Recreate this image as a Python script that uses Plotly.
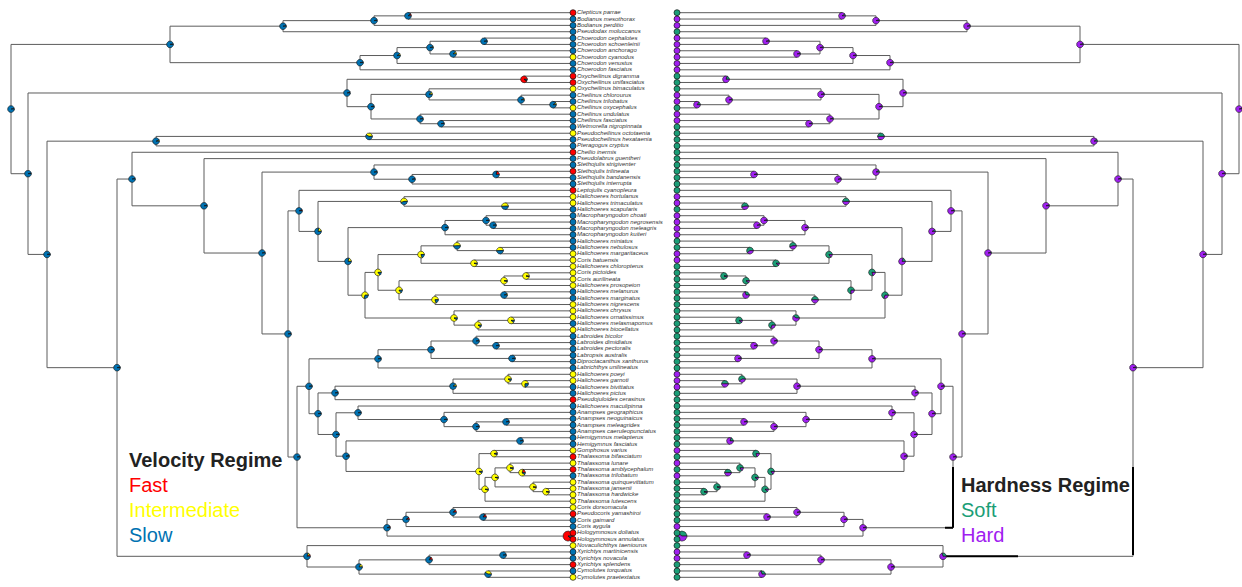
import math
import plotly.graph_objects as go

# ---------------- data ----------------
species = [
    "Clepticus parrae", "Bodianus mesothorax", "Bodianus perditio", "Pseudodax moluccanus",
    "Choerodon cephalotes", "Choerodon schoenleinii", "Choerodon anchorago", "Choerodon cyanodus",
    "Choerodon venustus", "Choerodon fasciatus",
    "Oxycheilinus digramma", "Oxycheilinus unifasciatus", "Oxycheilinus bimaculatus",
    "Cheilinus chlorourus", "Cheilinus trilobatus", "Cheilinus oxycephalus", "Cheilinus undulatus",
    "Cheilinus fasciatus",
    "Wetmorella nigropinnata", "Pseudocheilinus octotaenia", "Pseudocheilinus hexataenia",
    "Pteragogus cryptus", "Cheilio inermis",
    "Pseudolabrus guentheri", "Stethojulis strigiventer", "Stethojulis trilineata",
    "Stethojulis bandanensis", "Stethojulis interrupta",
    "Leptojulis cyanopleura", "Halichoeres hortulanus", "Halichoeres trimaculatus", "Halichoeres scapularis",
    "Macropharyngodon choati", "Macropharyngodon negrosensis", "Macropharyngodon meleagris",
    "Macropharyngodon kuiteri",
    "Halichoeres miniatus", "Halichoeres nebulosus", "Halichoeres margaritaceus", "Coris batuensis",
    "Halichoeres chloropterus",
    "Coris pictoides", "Coris aurilineata", "Halichoeres prosopeion", "Halichoeres melanurus",
    "Halichoeres marginatus",
    "Halichoeres nigrescens", "Halichoeres chrysus", "Halichoeres ornatissimus", "Halichoeres melasmapomus",
    "Halichoeres biocellatus",
    "Labroides bicolor", "Labroides dimidiatus", "Labroides pectoralis", "Labropsis australis",
    "Diproctacanthus xanthurus", "Labrichthys unilineatus",
    "Halichoeres poeyi", "Halichoeres garnoti", "Halichoeres bivittatus", "Halichoeres pictus",
    "Pseudojuloides cerasinus", "Halichoeres maculipinna",
    "Anampses geographicus", "Anampses neoguinaicus", "Anampses meleagrides", "Anampses caeruleopunctatus",
    "Hemigymnus melapterus", "Hemigymnus fasciatus", "Gomphosus varius",
    "Thalassoma bifasciatum", "Thalassoma lunare", "Thalassoma amblycephalum", "Thalassoma trilobatum",
    "Thalassoma quinquevittatum",
    "Thalassoma jansenii", "Thalassoma hardwicke", "Thalassoma lutescens",
    "Coris dorsomacula", "Pseudocoris yamashiroi", "Coris gaimard", "Coris aygula",
    "Hologymnosus doliatus", "Hologymnosus annulatus", "Novaculichthys taeniourus",
    "Xyrichtys martinicensis", "Xyrichtys novacula", "Xyrichtys splendens", "Cymolutes torquatus",
    "Cymolutes praetextatus",
]

# tip regimes (F = fast, I = intermediate, S = slow) / (S = soft, H = hard)
tip_velocity = list("FSSS" "SSSISS" "FFI" "SSISS" "SISSF" "SSFSS" "FIIS" "SSSS" "SSIII"
                    "IIISS" "IIISI" "SSSSSS" "IISSFS" "SSSS" "SSI" "FIFSI" "III" "IFSS" "FFI" "SSFSI")
tip_hardness = list("SHHS" "HHHHHH" "SSS" "HHSHH" "SSSSS" "SSSSS" "SHHS" "HHHH" "SSHHS"
                    "SSSSS" "SSSSS" "SSSSSS" "HHHSSS" "SSSS" "SSH" "SHSHS" "SSS" "SSSH" "SSS" "HHSSS")

velocity_states = ["Fast", "Intermediate", "Slow"]
velocity_codes = ["F", "I", "S"]
velocity_colors = ["#FF0000", "#FFFF00", "#0072B2"]
hardness_states = ["Soft", "Hard"]
hardness_codes = ["S", "H"]
hardness_colors = ["#1B9E77", "#A020F0"]


def N(age, vel, hard, *kids):
    return {"age": age, "vel": vel, "hard": hard, "kids": list(kids)}


SL = (0.01, 0.03, 0.96)   # mostly slow
HD = (0.05, 0.95)         # mostly hard

# clades: node age (Myr), [fast, inter, slow], [soft, hard], children
bodianus = N(29.0, (0.02, 0.02, 0.96), HD,
             N(19.9, (0.03, 0.02, 0.95), HD,
               N(16.5, (0.10, 0.02, 0.88), (0.10, 0.90), "Clepticus parrae", "Bodianus mesothorax"),
               "Bodianus perditio"),
             "Pseudodax moluccanus")

choerodon = N(21.3, SL, HD,
              N(17.6, (0.01, 0.08, 0.91), HD,
                N(14.3, (0.01, 0.05, 0.94), HD,
                  N(8.9, SL, HD, "Choerodon cephalotes", "Choerodon schoenleinii"),
                  N(12.0, (0.01, 0.10, 0.89), HD, "Choerodon anchorago", "Choerodon cyanodus")),
                "Choerodon venustus"),
              "Choerodon fasciatus")

cheilinini = N(22.6, (0.03, 0.02, 0.95), HD,
               N(4.9, (0.92, 0.03, 0.05), (0.20, 0.80), "Oxycheilinus digramma", "Oxycheilinus unifasciatus"),
               N(20.2, (0.03, 0.03, 0.94), HD,
                 N(14.4, (0.02, 0.10, 0.88), HD,
                   "Oxycheilinus bimaculatus",
                   N(5.2, (0.02, 0.05, 0.93), HD,
                     "Cheilinus chlorourus",
                     N(2.0, (0.02, 0.08, 0.90), (0.15, 0.85), "Cheilinus trilobatus", "Cheilinus oxycephalus"))),
                 N(15.3, SL, HD,
                   "Cheilinus undulatus",
                   N(13.2, SL, HD, "Cheilinus fasciatus", "Wetmorella nigropinnata"))))

pseudocheilinus = N(41.7, (0.01, 0.06, 0.93), (0.10, 0.90),
                    N(20.4, (0.02, 0.40, 0.58), (0.50, 0.50), "Pseudocheilinus octotaenia", "Pseudocheilinus hexataenia"),
                    "Pteragogus cryptus")

stethojulis = N(19.9, SL, (0.10, 0.90),
                "Stethojulis strigiventer",
                N(16.1, (0.03, 0.02, 0.95), HD,
                  N(7.7, (0.20, 0.02, 0.78), HD, "Stethojulis trilineata", "Stethojulis bandanensis"),
                  "Stethojulis interrupta"))

macropharyngodon = N(12.8, SL, HD,
                     N(8.7, SL, HD,
                       "Macropharyngodon choati",
                       N(8.0, SL, HD, "Macropharyngodon negrosensis", "Macropharyngodon meleagris")),
                     "Macropharyngodon kuiteri")

halichoeres_b = N(20.8, (0.01, 0.70, 0.29), (0.70, 0.30),
                  N(19.5, (0.01, 0.85, 0.14), (0.80, 0.20),
                    N(15.2, (0.01, 0.80, 0.19), (0.85, 0.15),
                      N(11.6, (0.01, 0.50, 0.49), (0.55, 0.45),
                        "Halichoeres miniatus",
                        N(7.3, (0.01, 0.50, 0.49), (0.60, 0.40), "Halichoeres nebulosus", "Halichoeres margaritaceus")),
                      N(9.9, (0.01, 0.95, 0.04), (0.90, 0.10), "Coris batuensis", "Halichoeres chloropterus")),
                    N(17.4, (0.01, 0.85, 0.14), (0.75, 0.25),
                      N(6.9, (0.01, 0.95, 0.04), (0.90, 0.10),
                        N(4.7, (0.01, 0.96, 0.03), (0.95, 0.05), "Coris pictoides", "Coris aurilineata"),
                        "Halichoeres prosopeion"),
                      N(13.8, (0.01, 0.80, 0.19), (0.50, 0.50),
                        N(6.9, (0.01, 0.05, 0.94), (0.30, 0.70), "Halichoeres melanurus", "Halichoeres marginatus"),
                        "Halichoeres nigrescens"))),
                  N(11.9, (0.01, 0.90, 0.09), (0.40, 0.60),
                    "Halichoeres chrysus",
                    N(9.5, (0.01, 0.90, 0.09), (0.70, 0.30),
                      N(6.2, (0.01, 0.90, 0.09), (0.90, 0.10), "Halichoeres ornatissimus", "Halichoeres melasmapomus"),
                      "Halichoeres biocellatus")))

halichoeres_a = N(25.5, (0.02, 0.20, 0.78), (0.10, 0.90),
                  N(16.9, (0.01, 0.55, 0.44), (0.50, 0.50),
                    "Halichoeres hortulanus",
                    N(6.8, (0.01, 0.50, 0.49), (0.55, 0.45), "Halichoeres trimaculatus", "Halichoeres scapularis")),
                  N(22.5, (0.01, 0.20, 0.79), (0.20, 0.80), macropharyngodon, halichoeres_b))

labroides = N(19.5, SL, HD,
              N(14.2, SL, HD,
                N(9.7, SL, HD,
                  "Labroides bicolor",
                  N(7.7, SL, HD, "Labroides dimidiatus", "Labroides pectoralis")),
                N(6.1, SL, HD, "Labropsis australis", "Diproctacanthus xanthurus")),
              "Labrichthys unilineatus")

halichoeres_c = N(23.8, SL, HD,
                  N(12.0, (0.01, 0.10, 0.89), HD,
                    N(6.5, (0.01, 0.90, 0.09), (0.60, 0.40),
                      "Halichoeres poeyi",
                      N(4.8, (0.01, 0.75, 0.24), (0.50, 0.50), "Halichoeres garnoti", "Halichoeres bivittatus")),
                    "Halichoeres pictus"),
                  "Pseudojuloides cerasinus")

anampses = N(21.5, SL, HD,
             "Halichoeres maculipinna",
             N(12.9, SL, HD,
               "Anampses geographicus",
               N(9.7, SL, HD,
                 N(6.7, SL, HD, "Anampses neoguinaicus", "Anampses meleagrides"),
                 "Anampses caeruleopunctatus")))

thalassoma = N(9.4, (0.02, 0.90, 0.08), (0.85, 0.15),
               N(7.9, (0.05, 0.90, 0.05), (0.80, 0.20), "Gomphosus varius", "Thalassoma bifasciatum"),
               N(8.8, (0.01, 0.95, 0.04), (0.90, 0.10),
                 N(7.8, (0.01, 0.95, 0.04), (0.90, 0.10),
                   N(6.3, (0.02, 0.93, 0.05), (0.85, 0.15),
                     "Thalassoma lunare",
                     N(5.1, (0.20, 0.70, 0.10), (0.50, 0.50), "Thalassoma amblycephalum", "Thalassoma trilobatum")),
                   N(4.0, (0.01, 0.96, 0.03), (0.95, 0.05),
                     "Thalassoma quinquevittatum",
                     N(2.7, (0.01, 0.96, 0.03), (0.95, 0.05), "Thalassoma jansenii", "Thalassoma hardwicke"))),
                 "Thalassoma lutescens"))

hemigymnus_thalassoma = N(22.7, (0.01, 0.04, 0.95), HD,
                          N(5.3, SL, (0.20, 0.80), "Hemigymnus melapterus", "Hemigymnus fasciatus"),
                          thalassoma)

coris = N(18.6, (0.05, 0.02, 0.93), HD,
          N(16.7, (0.10, 0.02, 0.88), HD,
            N(12.0, (0.12, 0.02, 0.86), HD,
              "Coris dorsomacula",
              N(9.0, (0.15, 0.02, 0.83), HD, "Pseudocoris yamashiroi", "Coris gaimard")),
            "Coris aygula"),
          N(0.5, (0.90, 0.02, 0.08), (0.40, 0.60), "Hologymnosus doliatus", "Hologymnosus annulatus"))

julidines = N(28.5, SL, HD,
              N(27.4, (0.05, 0.03, 0.92), HD, "Leptojulis cyanopleura", halichoeres_a),
              N(27.6, SL, HD,
                N(26.4, SL, HD,
                  labroides,
                  N(25.5, SL, HD,
                    halichoeres_c,
                    N(23.7, SL, HD, anampses, hemigymnus_thalassoma))),
                coris))

novaculines = N(26.6, (0.10, 0.10, 0.80), (0.30, 0.70),
                "Novaculichthys taeniourus",
                N(21.4, (0.02, 0.15, 0.83), HD,
                  N(14.4, (0.15, 0.02, 0.83), HD,
                    N(7.0, SL, HD, "Xyrichtys martinicensis", "Xyrichtys novacula"),
                    "Xyrichtys splendens"),
                  N(8.5, (0.01, 0.40, 0.59), (0.30, 0.70), "Cymolutes torquatus", "Cymolutes praetextatus")))

core = N(45.6, SL, HD,
         N(44.1, SL, HD,
           "Cheilio inermis",
           N(36.9, SL, HD,
             "Pseudolabrus guentheri",
             N(31.1, SL, HD, stethojulis, julidines))),
         novaculines)

tree = N(56.2, SL, HD,
         N(40.3, SL, HD, bodianus, choerodon),
         N(54.5, SL, HD,
           cheilinini,
           N(52.6, SL, HD, pseudocheilinus, core)))

# ---------------- geometry / scales ----------------
W, H = 1242, 587
PX_PER_MYR = 10.0        # horizontal scale of each tree
PX_PER_TIP = 6.344       # vertical spacing of tips
LEFT_TIP_PX, RIGHT_TIP_PX, TOP_TIP_PX = 573.0, 677.0, 12.7

x1_range = [LEFT_TIP_PX / PX_PER_MYR, (LEFT_TIP_PX - W / 2) / PX_PER_MYR]
x2_range = [(W / 2 - RIGHT_TIP_PX) / PX_PER_MYR, (W - RIGHT_TIP_PX) / PX_PER_MYR]
y_range = [(H - TOP_TIP_PX) / PX_PER_TIP, -TOP_TIP_PX / PX_PER_TIP]


def right_age(px):
    return (px - RIGHT_TIP_PX) / PX_PER_MYR


def tip_pos(py):
    return (py - TOP_TIP_PX) / PX_PER_TIP


tip_index = {name: i for i, name in enumerate(species)}
segments = []
nodes = []


def layout(node):
    if isinstance(node, str):
        return 0.0, float(tip_index[node])
    ys = []
    for k in node["kids"]:
        ka, ky = layout(k)
        segments.append((node["age"], ky, ka, ky))
        ys.append(ky)
    y = (min(ys) + max(ys)) / 2.0
    segments.append((node["age"], min(ys), node["age"], max(ys)))
    nodes.append((node["age"], y, node["vel"], node["hard"]))
    return node["age"], y


layout(tree)

fig = go.Figure()


def add_tree_lines(xaxis):
    xs, ys = [], []
    for a0, y0, a1, y1 in segments:
        xs += [a0, a1, None]
        ys += [y0, y1, None]
    fig.add_trace(go.Scatter(x=xs, y=ys, mode="lines", xaxis=xaxis, yaxis="y",
                             line=dict(color="#5c5c5c", width=1), hoverinfo="skip", showlegend=False))


def add_legend_overlap():
    # branches of the right tree inside the legend frame are drawn dark
    v_age = (right_age(945), right_age(1136))
    v_y = (tip_pos(467), tip_pos(555))
    h_age = (right_age(945), right_age(1018))
    h_y = (tip_pos(467), tip_pos(561))
    xs, ys = [], []
    for a0, y0, a1, y1 in segments:
        if a0 == a1:  # vertical
            if v_age[0] <= a0 <= v_age[1]:
                lo, hi = max(min(y0, y1), v_y[0]), min(max(y0, y1), v_y[1])
                if hi > lo:
                    xs += [a0, a0, None]
                    ys += [lo, hi, None]
        else:  # horizontal
            if h_y[0] <= y0 <= h_y[1]:
                lo, hi = max(min(a0, a1), h_age[0]), min(max(a0, a1), h_age[1])
                if hi > lo:
                    xs += [lo, hi, None]
                    ys += [y0, y0, None]
    fig.add_trace(go.Scatter(x=xs, y=ys, mode="lines", xaxis="x2", yaxis="y",
                             line=dict(color="#000000", width=2), hoverinfo="skip", showlegend=False))


def add_pies(xaxis, which, colors, sign):
    polys = {c: ([], []) for c in range(len(colors))}
    for age, y, vel, hard in nodes:
        probs = vel if which == "vel" else hard
        r = 5.0 if age < 1.0 else 3.4
        total = sum(probs)
        a = 0.0
        for ci, p in enumerate(probs):
            if p <= 0:
                continue
            a1 = a + 2 * math.pi * p / total
            n = max(3, int(48 * (a1 - a) / (2 * math.pi)) + 2)
            px, py = [age], [y]
            for j in range(n + 1):
                th = a + (a1 - a) * j / n
                px.append(age - sign * r * math.cos(th) / PX_PER_MYR)
                py.append(y - r * math.sin(th) / PX_PER_TIP)
            px.append(age)
            py.append(y)
            polys[ci][0].extend(px + [None])
            polys[ci][1].extend(py + [None])
            a = a1
    for ci, col in enumerate(colors):
        xs, ys = polys[ci]
        fig.add_trace(go.Scatter(x=xs, y=ys, mode="lines", fill="toself", fillcolor=col,
                                 line=dict(color="#111111", width=0.6), xaxis=xaxis, yaxis="y",
                                 hoverinfo="skip", showlegend=False))


def add_tips(xaxis, states, codes, colors):
    cols = [colors[codes.index(s)] for s in states]
    fig.add_trace(go.Scatter(x=[0.0] * len(species), y=list(range(len(species))), mode="markers",
                             marker=dict(size=6, color=cols, line=dict(color="#111111", width=0.7)),
                             xaxis=xaxis, yaxis="y", hoverinfo="skip", showlegend=False))


add_tree_lines("x")
add_tree_lines("x2")
add_legend_overlap()
add_pies("x", "vel", velocity_colors, +1)
add_pies("x2", "hard", hardness_colors, -1)
add_tips("x", tip_velocity, velocity_codes, velocity_colors)
add_tips("x2", tip_hardness, hardness_codes, hardness_colors)

# tip labels
fig.add_trace(go.Scatter(x=[-0.4] * len(species), y=list(range(len(species))), mode="text",
                         text=species, textposition="middle right",
                         textfont=dict(family="Liberation Sans", size=6, color="#333333", style="italic"),
                         xaxis="x", yaxis="y", hoverinfo="skip", showlegend=False, cliponaxis=False))


# legends
def legend(x_px, y_px, title, labels, colors):
    fig.add_annotation(x=x_px / W, y=1 - y_px / H, xref="paper", yref="paper",
                       text="<b>" + title + "</b>", showarrow=False, xanchor="left", yanchor="middle",
                       font=dict(family="Liberation Sans", size=20, color="#222222"))
    for i, (lab, col) in enumerate(zip(labels, colors)):
        fig.add_annotation(x=x_px / W, y=1 - (y_px + 25 * (i + 1)) / H, xref="paper", yref="paper",
                           text=lab, showarrow=False, xanchor="left", yanchor="middle",
                           font=dict(family="Liberation Sans", size=20, color=col))


legend(127, 460, "Velocity Regime", velocity_states, velocity_colors)
legend(959, 485, "Hardness Regime", hardness_states, hardness_colors)

axis_off = dict(visible=False, showgrid=False, zeroline=False, fixedrange=True)
fig.update_layout(
    width=W, height=H, margin=dict(l=0, r=0, t=0, b=0),
    paper_bgcolor="white", plot_bgcolor="white", showlegend=False,
    xaxis=dict(domain=[0, 0.5], range=x1_range, **axis_off),
    xaxis2=dict(domain=[0.5, 1], range=x2_range, **axis_off),
    yaxis=dict(domain=[0, 1], range=y_range, **axis_off),
)

fig.write_html("out.html", config={"displayModeBar": False},
               post_script="document.body.style.margin='0';document.body.style.padding='0';")
